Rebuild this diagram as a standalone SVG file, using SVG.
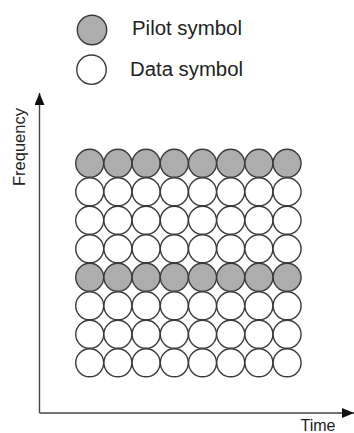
<svg xmlns="http://www.w3.org/2000/svg" xmlns:xlink="http://www.w3.org/1999/xlink" width="354" height="433" viewBox="0 0 354 433">
<style>
.pilot{fill:#adadad;stroke:#3a3a3a;stroke-width:1.4}
.data{fill:#ffffff;stroke:#3a3a3a;stroke-width:1.4}
.axis{stroke:#444;stroke-width:1.4;fill:none}
.lbl{font-family:"Liberation Sans",Arial,sans-serif;fill:#222}
</style>
<defs>
<marker id="arr" viewBox="0 0 12 10" refX="12" refY="5" markerWidth="12" markerHeight="10" markerUnits="userSpaceOnUse" orient="auto">
<path d="M0,0 L12,5 L0,10 Z" fill="#111"/>
</marker>
<circle id="p" r="14" class="pilot"/>
<circle id="d" r="14" class="data"/>
<g id="prow">
<use xlink:href="#p" x="89.7"/><use xlink:href="#p" x="117.9"/><use xlink:href="#p" x="146.1"/><use xlink:href="#p" x="174.3"/><use xlink:href="#p" x="202.5"/><use xlink:href="#p" x="230.7"/><use xlink:href="#p" x="258.9"/><use xlink:href="#p" x="287.1"/>
</g>
<g id="drow">
<use xlink:href="#d" x="89.7"/><use xlink:href="#d" x="117.9"/><use xlink:href="#d" x="146.1"/><use xlink:href="#d" x="174.3"/><use xlink:href="#d" x="202.5"/><use xlink:href="#d" x="230.7"/><use xlink:href="#d" x="258.9"/><use xlink:href="#d" x="287.1"/>
</g>
</defs>
<rect width="354" height="433" fill="#ffffff"/>
<g id="legend">
<circle cx="92" cy="30" r="14.7" class="pilot"/>
<text class="lbl" x="132" y="35" font-size="20" textLength="110" lengthAdjust="spacingAndGlyphs">Pilot symbol</text>
<circle cx="91.5" cy="69.7" r="14.7" class="data"/>
<text class="lbl" x="130" y="76" font-size="20" textLength="113" lengthAdjust="spacingAndGlyphs">Data symbol</text>
</g>
<g id="connectors">
<path class="axis" d="M39.5,413 V93" marker-end="url(#arr)"/>
<path class="axis" d="M39.5,413 H354" marker-end="url(#arr)"/>
</g>
<g id="axis-labels">
<text class="lbl" transform="translate(25,186) rotate(-90)" font-size="16.5">Frequency</text>
<text class="lbl" x="300.5" y="430.5" font-size="16">Time</text>
</g>
<g id="grid">
<use xlink:href="#prow" y="163.3"/>
<use xlink:href="#drow" y="191.8"/>
<use xlink:href="#drow" y="220.3"/>
<use xlink:href="#drow" y="248.8"/>
<use xlink:href="#prow" y="277.3"/>
<use xlink:href="#drow" y="305.8"/>
<use xlink:href="#drow" y="334.3"/>
<use xlink:href="#drow" y="362.8"/>
</g>
</svg>
